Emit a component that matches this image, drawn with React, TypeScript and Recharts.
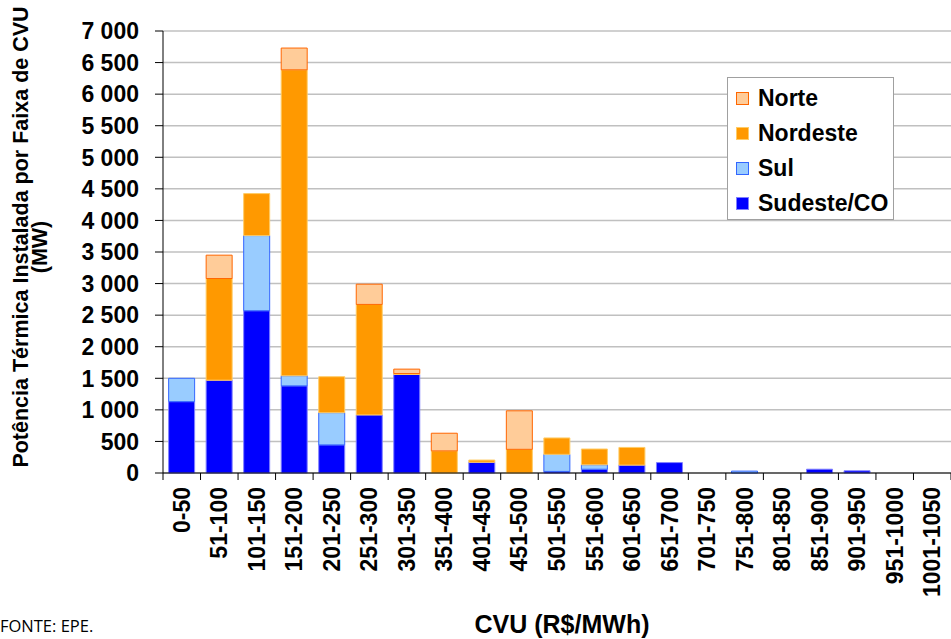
import React from "react";
import {
  Bar,
  BarChart,
  CartesianGrid,
  Legend,
  XAxis,
  YAxis,
} from "recharts";

const categories = [
  "0-50", "51-100", "101-150", "151-200", "201-250", "251-300", "301-350",
  "351-400", "401-450", "451-500", "501-550", "551-600", "601-650", "651-700",
  "701-750", "751-800", "801-850", "851-900", "901-950", "951-1000", "1001-1050",
];
const sudeste = [1130, 1470, 2570, 1380, 445, 920, 1560, 0, 170, 0, 25, 60, 125, 165, 0, 0, 0, 60, 35, 0, 0];
const sul = [370, 0, 1190, 160, 510, 0, 0, 0, 0, 0, 270, 70, 0, 0, 0, 30, 0, 0, 0, 0, 0];
const nordeste = [0, 1610, 665, 4845, 570, 1750, 15, 350, 35, 375, 260, 250, 280, 0, 0, 0, 0, 0, 0, 0, 0];
const norte = [0, 370, 0, 345, 0, 320, 70, 280, 0, 610, 0, 0, 0, 0, 0, 0, 0, 0, 0, 0, 0];
const yTicks = [0, 500, 1000, 1500, 2000, 2500, 3000, 3500, 4000, 4500, 5000, 5500, 6000, 6500, 7000];

const series = [
  { key: "sudeste", name: "Sudeste/CO", fill: "#0000FF", stroke: "#8080FF" },
  { key: "sul", name: "Sul", fill: "#99CCFF", stroke: "#3366FF" },
  { key: "nordeste", name: "Nordeste", fill: "#FF9900", stroke: "#FFCC66" },
  { key: "norte", name: "Norte", fill: "#FFCC99", stroke: "#FF6600" },
];

const data = categories.map((name, i) => ({
  name,
  sudeste: sudeste[i],
  sul: sul[i],
  nordeste: nordeste[i],
  norte: norte[i],
}));

const W = 951;
const H = 639;
const LEFT = 163;
const TOP = 31;
const BOTTOM = 473;
const HALF = (W - LEFT) / categories.length / 2;
const FONT = "Arial, 'Liberation Sans', sans-serif";

// thousands with a space: 7 000
const fmt = (v: number) =>
  v >= 1000 ? `${Math.floor(v / 1000)} ${String(v % 1000).padStart(3, "0")}` : String(v);

const YTick = (props: any) => {
  const { y, payload } = props;
  return (
    <g>
      <line x1={LEFT - 8} x2={LEFT} y1={y} y2={y} stroke="#000" />
      {payload.value === 0 && (
        <line x1={LEFT} x2={LEFT} y1={BOTTOM} y2={BOTTOM + 7} stroke="#000" />
      )}
      <text
        x={139}
        y={y}
        dy="0.36em"
        textAnchor="end"
        fontFamily={FONT}
        fontWeight="bold"
        fontSize={23}
        fill="#000"
      >
        {fmt(payload.value)}
      </text>
    </g>
  );
};

const XTick = (props: any) => {
  const { x, payload } = props;
  return (
    <g>
      <line x1={x + HALF} x2={x + HALF} y1={BOTTOM} y2={BOTTOM + 7} stroke="#000" />
      <text
        transform={`translate(${x + 8},${487}) rotate(-90)`}
        textAnchor="end"
        fontFamily={FONT}
        fontWeight="bold"
        fontSize={23}
        fill="#000"
      >
        {payload.value}
      </text>
    </g>
  );
};

const YTitle = () => (
  <g fontFamily={FONT} fontWeight="bold" fontSize={21.5} fill="#000">
    <text transform="translate(28,237) rotate(-90)" textAnchor="middle">
      Potência Térmica Instalada por Faixa de CVU
    </text>
    <text transform="translate(47,247) rotate(-90)" textAnchor="middle">
      (MW)
    </text>
  </g>
);

const XTitle = () => (
  <g fill="#000">
    <text x={562} y={633} textAnchor="middle" fontFamily={FONT} fontWeight="bold" fontSize={25}>
      CVU (R$/MWh)
    </text>
    <text x={0} y={632} fontFamily="'Open Sans', sans-serif" fontSize={16.5}>
      FONTE:  EPE.
    </text>
  </g>
);

const LegendBox = () => (
  <div
    style={{
      width: 167,
      height: 143,
      boxSizing: "border-box",
      border: "1px solid #A0A0A0",
      background: "#fff",
      padding: "3px 0 0 8px",
      fontFamily: FONT,
      fontWeight: "bold",
      fontSize: 23,
      color: "#000",
    }}
  >
    {[...series].reverse().map((s) => (
      <div key={s.key} style={{ display: "flex", alignItems: "center", height: 35 }}>
        <span
          style={{
            display: "inline-block",
            width: 13,
            height: 13,
            boxSizing: "border-box",
            background: s.fill,
            border: `1px solid ${s.stroke}`,
            marginRight: 9,
          }}
        />
        {s.name}
      </div>
    ))}
  </div>
);

export default function App() {
  return (
    <div style={{ position: "relative", width: W, height: H, background: "#fff" }}>
      <style>{"body{margin:0}"}</style>
      <BarChart
        width={W}
        height={H}
        data={data}
        margin={{ top: TOP, right: 0, bottom: 0, left: 0 }}
        barCategoryGap="15%"
      >
        <CartesianGrid vertical={false} stroke="#C0C0C0" strokeWidth={1.5} />
        <XAxis
          dataKey="name"
          height={H - BOTTOM}
          interval={0}
          axisLine={{ stroke: "#000" }}
          tickLine={false}
          tick={<XTick />}
          label={<XTitle />}
        />
        <YAxis
          width={LEFT}
          domain={[0, 7000]}
          ticks={yTicks}
          interval={0}
          axisLine={{ stroke: "#000" }}
          tickLine={false}
          tick={<YTick />}
          label={<YTitle />}
        />
        <Legend
          layout="vertical"
          align="center"
          verticalAlign="middle"
          wrapperStyle={{ left: 727, top: 77, width: 167, height: 143 }}
          content={<LegendBox />}
        />
        {series.map((s) => (
          <Bar
            key={s.key}
            dataKey={s.key}
            name={s.name}
            stackId="a"
            fill={s.fill}
            stroke={s.stroke}
            strokeWidth={1}
            isAnimationActive={false}
          />
        ))}
      </BarChart>
    </div>
  );
}
